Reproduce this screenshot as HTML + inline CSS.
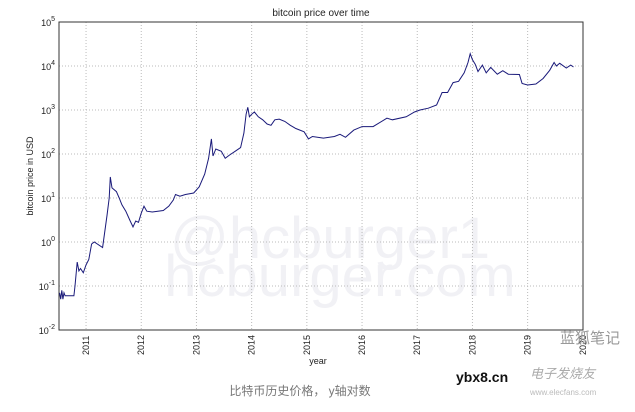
<!DOCTYPE html>
<html><head><meta charset="utf-8"><style>
body{margin:0;background:#fff;width:635px;height:407px;overflow:hidden;font-family:"Liberation Sans","Noto Sans CJK SC",sans-serif}
</style></head><body>
<svg id="s" width="635" height="407" xmlns="http://www.w3.org/2000/svg" font-family="Liberation Sans, Noto Sans CJK SC, sans-serif">
<text x="330" y="258" font-size="58" fill="#f1f1f5" text-anchor="middle">@hcburger1</text>
<text x="340" y="296" font-size="58" fill="#f1f1f5" text-anchor="middle">hcburger.com</text>
<g id="grid" stroke="#bbb" stroke-dasharray="1,2" stroke-width="1"></g>
<rect x="59" y="22" width="524" height="308" fill="none" stroke="#333" stroke-width="1"/>
<polyline id="p" fill="none" stroke="#1a1a7a" stroke-width="1"/>
<text x="321" y="16" font-size="10" text-anchor="middle" fill="#222">bitcoin price over time</text>
<text transform="translate(33,176) rotate(-90)" font-size="9" text-anchor="middle" fill="#222">bitcoin price in USD</text>
<text x="318" y="364" font-size="9" text-anchor="middle" fill="#222">year</text>
<g id="lab" font-size="9" fill="#222"></g>
<text x="300" y="395" font-size="12" fill="#777" text-anchor="middle">比特币历史价格， y轴对数</text>
<text x="560" y="343" font-size="15" fill="#999">蓝狐笔记</text>
<text x="456" y="382" font-size="14" font-weight="bold" fill="#111">ybx8.cn</text>
<text x="530" y="378" font-size="13" fill="#aaa" font-style="italic">电子发烧友</text>
<text x="530" y="395" font-size="8" fill="#bbb">www.elecfans.com</text>
</svg>
<script>
const X=y=>59+(y-2010.51)*55.2, Y=p=>22+(5-Math.log10(p))*44;
let g=document.getElementById('grid'),l=document.getElementById('lab'),h='',t='';
for(let yr=2011;yr<=2019;yr++){h+=`<line x1="${X(yr)}" x2="${X(yr)}" y1="22" y2="330"/>`;}
for(let e=-2;e<=5;e++){let y=Y(Math.pow(10,e));if(e>-2&&e<5)h+=`<line x1="59" x2="583" y1="${y}" y2="${y}"/>`;
t+=`<text x="55" y="${y+4}" text-anchor="end">10<tspan dy="-5" font-size="7">${e}</tspan></text>`;}
for(let yr=2011;yr<=2020;yr++){t+=`<text transform="translate(${X(yr)+3},355) rotate(-90)">${yr}</text>`;}
g.innerHTML=h;l.innerHTML=t;
const d=[[2010.52,0.07],[2010.54,0.05],[2010.56,0.08],[2010.58,0.05],[2010.6,0.07],[2010.62,0.06],[2010.78,0.06],[2010.8,0.1],[2010.84,0.35],[2010.87,0.22],[2010.9,0.25],[2010.95,0.2],[2011.0,0.3],[2011.05,0.4],[2011.1,0.9],[2011.15,1.0],[2011.3,0.75],[2011.38,4],[2011.42,10],[2011.44,30],[2011.47,17],[2011.55,14],[2011.6,10],[2011.65,7],[2011.72,5],[2011.8,3],[2011.85,2.2],[2011.9,3],[2011.95,2.8],[2012.0,4.5],[2012.05,6.5],[2012.1,5],[2012.2,4.8],[2012.4,5.2],[2012.5,6.5],[2012.58,9],[2012.62,12],[2012.7,11],[2012.8,12],[2012.95,13],[2013.05,18],[2013.15,35],[2013.22,80],[2013.27,220],[2013.3,90],[2013.35,130],[2013.45,115],[2013.52,80],[2013.6,95],[2013.7,115],[2013.8,140],[2013.86,300],[2013.9,800],[2013.93,1150],[2013.96,700],[2014.0,800],[2014.05,900],[2014.12,700],[2014.2,600],[2014.28,480],[2014.35,450],[2014.42,600],[2014.5,620],[2014.6,550],[2014.7,450],[2014.8,380],[2014.95,320],[2015.03,220],[2015.1,250],[2015.3,230],[2015.5,250],[2015.6,280],[2015.7,240],[2015.85,350],[2016.0,420],[2016.2,420],[2016.45,650],[2016.55,600],[2016.8,700],[2016.95,900],[2017.05,1000],[2017.2,1100],[2017.35,1300],[2017.45,2500],[2017.55,2500],[2017.65,4200],[2017.75,4500],[2017.85,7000],[2017.92,12000],[2017.96,19000],[2018.0,14000],[2018.05,11000],[2018.1,7500],[2018.18,10500],[2018.25,7000],[2018.33,9300],[2018.45,6500],[2018.55,7800],[2018.65,6500],[2018.85,6400],[2018.9,4000],[2019.0,3700],[2019.15,3900],[2019.28,5200],[2019.4,8000],[2019.48,12000],[2019.52,10000],[2019.58,11500],[2019.7,9000],[2019.78,10500],[2019.83,9500]];
document.getElementById('p').setAttribute('points',d.map(a=>X(a[0]).toFixed(1)+','+Y(a[1]).toFixed(1)).join(' '));
</script>
</body></html>
